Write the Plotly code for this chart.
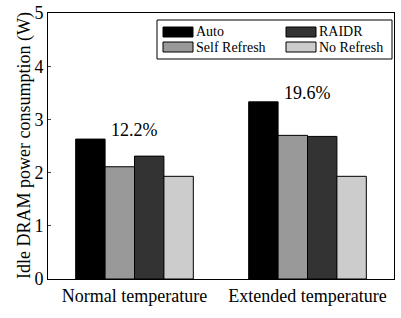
import plotly.graph_objects as go

categories = ["Normal temperature", "Extended temperature"]
series_names = ["Auto", "Self Refresh", "RAIDR", "No Refresh"]
auto = [2.63, 3.33]
self_refresh = [2.11, 2.70]
raidr = [2.31, 2.68]
no_refresh = [1.93, 1.93]
savings = ["12.2%", "19.6%"]
colors = ["#000000", "#999999", "#333333", "#cccccc"]
y_title = "Idle DRAM power consumption (W)"

series = [auto, self_refresh, raidr, no_refresh]
FONT = "Liberation Serif, Times New Roman, serif"

W, H = 401, 318
L, R, T, B = 48, 7, 13, 39
PW, PH = W - L - R, H - T - B


def px(x):
    return (x - L) / PW


def py(y):
    return (H - B - y) / PH


fig = go.Figure()
for name, vals, col in zip(series_names, series, colors):
    fig.add_trace(go.Bar(
        x=categories, y=vals, name=name, showlegend=False,
        marker=dict(color=col, line=dict(color="#000000", width=1)),
    ))

for cat, lab, a in zip(categories, savings, auto):
    fig.add_annotation(x=cat, y=a, text=lab, showarrow=False,
                       yanchor="bottom", yshift=-3,
                       font=dict(family=FONT, size=18, color="#000"))

# custom legend (2 columns: Auto / RAIDR, Self Refresh / No Refresh)
shapes = [dict(type="rect", xref="paper", yref="paper",
               x0=px(157), x1=px(392), y0=py(59), y1=py(20),
               line=dict(color="#000", width=1), fillcolor="white")]
legend_layout = {"Auto": (163, 27), "RAIDR": (286, 27),
                 "Self Refresh": (163, 42), "No Refresh": (286, 42)}
annotations = []
for name, col in zip(series_names, colors):
    sx, sy = legend_layout[name]
    shapes.append(dict(type="rect", xref="paper", yref="paper",
                       x0=px(sx), x1=px(sx + 30), y0=py(sy + 10), y1=py(sy),
                       line=dict(color="#000", width=1), fillcolor=col))
    annotations.append(dict(xref="paper", yref="paper", x=px(sx + 31),
                            y=py(sy + 5), text=name, showarrow=False,
                            xanchor="left", yanchor="middle",
                            font=dict(family=FONT, size=14, color="#000")))

annotations.append(dict(xref="paper", yref="paper", x=px(24), y=py(146),
                        text=y_title, textangle=-90, showarrow=False,
                        xanchor="center", yanchor="middle",
                        font=dict(family=FONT, size=18, color="#000")))

for a in annotations:
    fig.add_annotation(**a)

fig.update_layout(
    width=W, height=H,
    margin=dict(l=L, r=R, t=T, b=B),
    paper_bgcolor="white", plot_bgcolor="white",
    barmode="group", bargap=0.32, bargroupgap=0,
    font=dict(family=FONT, color="#000"),
    showlegend=False,
    hovermode=False,
    shapes=shapes,
    xaxis=dict(
        range=[-0.5, 1.5], showline=True, mirror=True, linecolor="#000",
        linewidth=1, ticks="", tickfont=dict(family=FONT, size=18),
        showgrid=False, automargin=False,
    ),
    yaxis=dict(
        range=[0, 5], dtick=1, showline=True, mirror=True, linecolor="#000",
        linewidth=1, ticks="inside", ticklen=3, showgrid=False,
        tickfont=dict(family=FONT, size=18), zeroline=False,
        automargin=False,
    ),
)

fig.write_html("out.html",
               config={"displayModeBar": False, "staticPlot": True},
               post_script="document.body.style.margin='0';"
                           "document.body.style.padding='0';")
